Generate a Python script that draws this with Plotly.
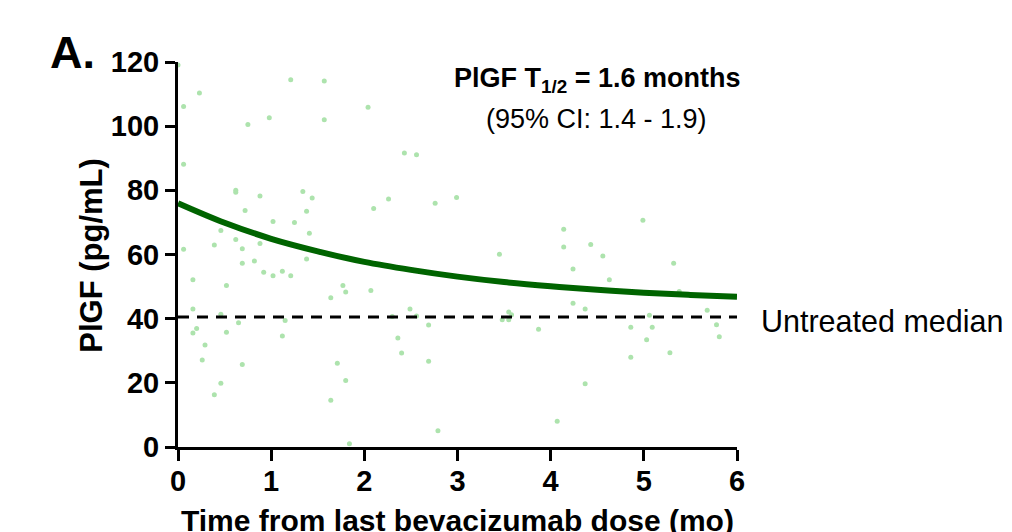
import plotly.graph_objects as go

# Scatter data: time since last bevacizumab dose (months) and PlGF (pg/mL)
time_mo = [0.00, 0.23, 0.06, 1.21, 1.57, 2.04, 0.75, 0.98, 1.57, 0.06,
           0.62, 0.62, 0.88, 1.34, 1.44, 0.72, 1.38, 1.02, 1.25, 0.46,
           1.41, 0.62, 0.39, 0.88, 0.69, 0.06, 0.69, 0.82, 0.92, 1.02,
           1.12, 1.21, 1.38, 0.16, 0.52, 1.77, 1.80, 1.64, 2.07, 0.16,
           0.46, 0.65, 1.15, 0.20, 0.16, 0.52, 1.12, 0.29, 0.26, 0.69,
           1.71, 0.46, 1.80, 0.39, 1.64, 1.84, 2.43, 2.56, 2.26, 2.10,
           2.76, 2.99, 3.45, 2.49, 2.30, 2.56, 2.69, 2.36, 2.40, 2.69,
           2.79, 3.55, 3.58, 3.48, 3.55, 3.87, 4.07, 4.14, 4.99, 4.14,
           4.43, 4.56, 4.24, 4.63, 5.32, 5.38, 4.24, 4.37, 5.06, 5.68,
           4.86, 5.09, 5.78, 5.03, 5.81, 4.86, 5.28, 4.37]
plgf = [119.1, 110.3, 106.1, 114.5, 114.1, 105.9, 100.5, 102.6, 102.0, 88.1,
        80.0, 79.4, 78.2, 79.6, 77.6, 73.7, 73.5, 70.3, 70.0, 67.5,
        66.6, 64.7, 63.0, 63.4, 61.8, 61.6, 57.3, 58.0, 54.5, 53.4,
        54.8, 53.4, 58.6, 52.1, 50.3, 50.3, 48.3, 46.5, 48.8, 43.0,
        41.4, 38.7, 39.4, 36.9, 35.5, 35.8, 34.6, 31.8, 27.1, 25.7,
        26.1, 19.9, 20.7, 16.3, 14.6, 1.0, 91.6, 91.1, 77.3, 74.3,
        76.0, 77.8, 60.1, 43.0, 40.7, 40.8, 38.0, 34.0, 29.3, 26.7,
        5.1, 42.1, 41.2, 39.7, 39.7, 36.7, 8.0, 67.9, 70.7, 62.3,
        63.1, 59.5, 55.5, 52.1, 57.3, 48.5, 44.8, 43.0, 41.1, 42.6,
        37.3, 37.3, 38.1, 33.4, 34.4, 28.0, 29.4, 19.7]

# Fitted decay curve
fit_x = [0, 0.5, 1, 1.5, 2, 2.5, 3, 3.5, 4, 4.5, 5, 5.5, 6]
fit_y = [76.0, 69.9, 64.9, 61.0, 57.7, 55.2, 53.1, 51.4, 50.1, 49.0, 48.1, 47.4, 46.8]

# Untreated median
median_x = [0, 6]
median_y = [40.5, 40.5]

x_ticks = [0, 1, 2, 3, 4, 5, 6]
y_ticks = [0, 20, 40, 60, 80, 100, 120]

FONT = "Liberation Sans, Arial, sans-serif"
TICKFONT = "Liberation Sans Narrow, Liberation Sans, Arial, sans-serif"

fig = go.Figure()
fig.add_trace(go.Scatter(
    x=time_mo, y=plgf, mode="markers",
    marker=dict(size=5, color="#ade3ad", line=dict(width=0)),
    cliponaxis=False, showlegend=False, hoverinfo="skip"))
fig.add_trace(go.Scatter(
    x=median_x, y=median_y, mode="lines",
    line=dict(color="black", width=3, dash="11px,8px"),
    showlegend=False, hoverinfo="skip"))
fig.add_trace(go.Scatter(
    x=fit_x, y=fit_y, mode="lines", line_shape="spline",
    line=dict(color="#006400", width=6),
    showlegend=False, hoverinfo="skip", cliponaxis=False))

fig.update_layout(
    width=1012, height=532,
    margin=dict(l=170, r=283, t=54, b=93),
    paper_bgcolor="white", plot_bgcolor="white",
    font=dict(family=FONT, color="black"),
    xaxis=dict(range=[0, 6], tickvals=x_ticks, ticks="outside", ticklen=11, tickwidth=3,
               tickcolor="black", showline=True, linewidth=3, linecolor="black",
               showgrid=False, zeroline=False, ticklabelstandoff=-5,
               tickfont=dict(size=29, family=TICKFONT, weight="bold", color="black")),
    yaxis=dict(range=[0, 120], tickvals=y_ticks, ticks="outside", ticklen=10, tickwidth=3,
               tickcolor="black", showline=True, linewidth=3, linecolor="black",
               showgrid=False, zeroline=False,
               tickfont=dict(size=29, family=TICKFONT, weight="bold", color="black")),
    annotations=[
        dict(text="<b>A.</b>", xref="paper", yref="paper", x=-0.188, y=1.024,
             xanchor="center", yanchor="middle", showarrow=False,
             font=dict(size=45, family=FONT, color="black")),
        dict(text="<b>PlGF T<sub>1/2</sub> = 1.6 months</b>", xref="x", yref="y",
             x=4.50, y=114.5, xanchor="center", yanchor="middle", showarrow=False,
             font=dict(size=27, family=FONT, color="black")),
        dict(text="(95% CI: 1.4 - 1.9)", xref="x", yref="y",
             x=4.49, y=102.2, xanchor="center", yanchor="middle", showarrow=False,
             font=dict(size=27, family=FONT, color="black")),
        dict(text="Untreated median", xref="paper", yref="y",
             x=1.039, y=39.2, xanchor="left", yanchor="middle", showarrow=False,
             font=dict(size=30.5, family=FONT, color="black")),
        dict(text="<b>Time from last bevacizumab dose (mo)</b>", xref="x", yref="paper",
             x=3, y=-0.192, xanchor="center", yanchor="middle", showarrow=False,
             font=dict(size=30, family=FONT, color="black")),
        dict(text="<b>PlGF (pg/mL)</b>", xref="paper", yref="y",
             x=-0.154, y=59.9, xanchor="center", yanchor="middle", showarrow=False,
             textangle=-90, font=dict(size=31, family=FONT, color="black")),
    ],
)

fig.write_html("out.html")
